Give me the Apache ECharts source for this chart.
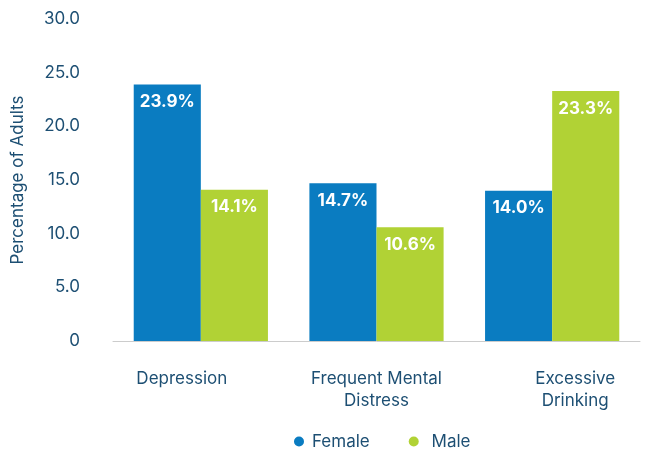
<!DOCTYPE html>
<html>
<head>
<meta charset="utf-8">
<script src="https://cdn.jsdelivr.net/npm/echarts@6/dist/echarts.min.js"></script>
<style>
  html, body { margin: 0; padding: 0; background: #fff; }
  #chart { width: 647px; height: 449px; }
</style>
</head>
<body>
<div id="chart"></div>
<script>
// Chart data
const categories = ['Depression', 'Frequent Mental\nDistress', 'Excessive\nDrinking'];
const femaleValues = [23.9, 14.7, 14.0];
const maleValues = [14.1, 10.6, 23.3];
const seriesNames = ['Female', 'Male'];
const yTicks = ['0', '5.0', '10.0', '15.0', '20.0', '25.0', '30.0'];

const textColor = '#1d4f73';
const fontFamily = 'Inter, "Noto Sans", sans-serif';

// Per-category label nudges for the x axis
const labelPads = [[0, 38, 0, 0], [0, 0, 0, 0], [0, 0, 0, 46]];

const chart = echarts.init(document.getElementById('chart'));

const barLabel = {
  show: true,
  position: 'insideTop',
  distance: 9,
  color: '#ffffff',
  fontWeight: 'bold',
  fontSize: 17,
  fontFamily: fontFamily,
  formatter: p => p.value.toFixed(1) + '%'
};

chart.setOption({
  animation: false,
  grid: { left: 113, right: 7, top: 19, bottom: 108 },
  legend: {
    top: 428,
    left: 289,
    icon: 'circle',
    itemWidth: 10,
    itemHeight: 10,
    itemGap: 39,
    formatter: name => name === 'Male' ? ' ' + name : name,
    textStyle: { color: textColor, fontSize: 17, fontFamily: fontFamily, padding: [0, 0, 0, 3] },
    data: seriesNames
  },
  xAxis: {
    type: 'category',
    data: categories.map((c, i) => ({ value: c, textStyle: { padding: labelPads[i] } })),
    axisLine: { show: true, lineStyle: { color: '#cccccc', width: 1 } },
    axisTick: { show: false },
    axisLabel: {
      color: textColor,
      fontSize: 17,
      fontFamily: fontFamily,
      margin: 27,
      lineHeight: 22
    }
  },
  yAxis: {
    type: 'value',
    min: 0,
    max: 30,
    interval: 5,
    name: 'Percentage of Adults',
    nameLocation: 'middle',
    nameGap: 87,
    nameTextStyle: { color: textColor, fontSize: 17, fontFamily: fontFamily },
    axisLine: { show: false },
    axisTick: { show: false },
    splitLine: { show: false },
    axisLabel: {
      color: textColor,
      fontSize: 17,
      fontFamily: fontFamily,
      margin: 33,
      formatter: v => yTicks[Math.round(v / 5)]
    }
  },
  series: [
    {
      name: seriesNames[0],
      type: 'bar',
      data: femaleValues,
      barGap: '0%',
      barCategoryGap: '23.6%',
      itemStyle: { color: '#0a7cc1' },
      label: barLabel
    },
    {
      name: seriesNames[1],
      type: 'bar',
      data: maleValues,
      itemStyle: { color: '#b1d235' },
      label: barLabel
    }
  ]
});
</script>
</body>
</html>
